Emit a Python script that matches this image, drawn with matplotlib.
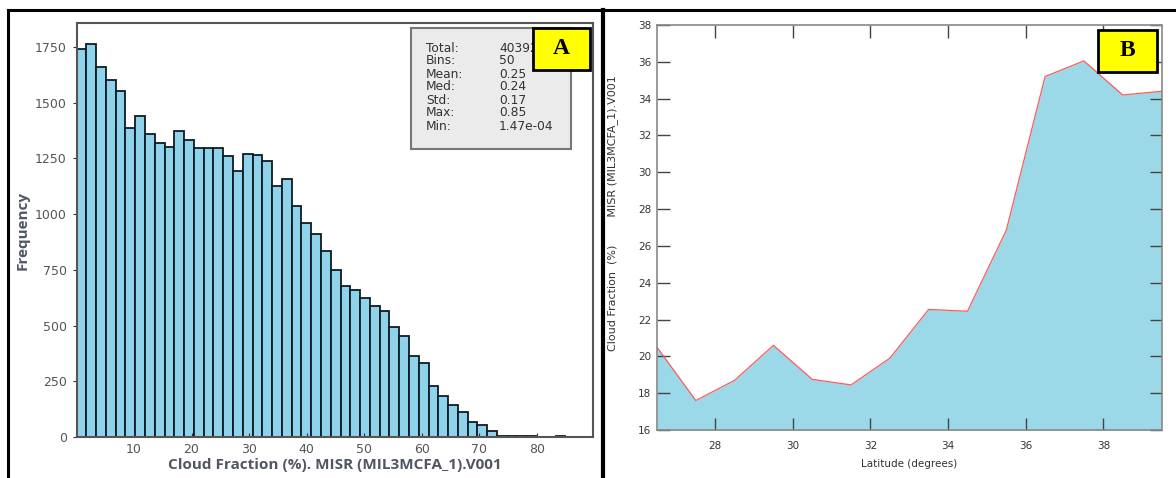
import numpy as np
import matplotlib
matplotlib.use("Agg")
import matplotlib.pyplot as plt
from matplotlib.lines import Line2D

# panel A: histogram of MISR cloud fraction (50 bins, 0..85 %)
bin_edges = np.linspace(0, 85, 51)
counts = [1740, 1764, 1662, 1604, 1554, 1388, 1442, 1361, 1321, 1303,
          1372, 1333, 1296, 1296, 1296, 1263, 1195, 1272, 1267, 1240,
          1127, 1157, 1035, 962, 911, 836, 750, 679, 660, 625,
          588, 565, 495, 455, 364, 334, 230, 184, 144, 112,
          67, 52, 28, 6, 5, 5, 4, 0, 0, 5]
stat_names = ["Total:", "Bins:", "Mean:", "Med:", "Std:", "Max:", "Min:"]
stat_values = ["40392", "50", "0.25", "0.24", "0.17", "0.85", "1.47e-04"]

# panel B: cloud fraction vs latitude
latitude = [26.5, 27.5, 28.5, 29.5, 30.5, 31.5, 32.5, 33.5, 34.5, 35.5,
            36.5, 37.5, 38.5, 39.5]
cloud_fraction = [20.5, 17.6, 18.7, 20.6, 18.75, 18.45, 19.9, 22.55, 22.45,
                  26.85, 35.2, 36.05, 34.2, 34.4]

W, H = 1176, 478
fig = plt.figure(figsize=(W / 100, H / 100), dpi=100)


def rect(l, t, r, b):
    return [l / W, 1 - b / H, (r - l) / W, (b - t) / H]


# ---- panel A ----
ax1 = fig.add_axes(rect(76.5, 23, 593, 437))
ax1.hist(bin_edges[:-1], bins=bin_edges, weights=counts,
         color="#8fd3ea", edgecolor="#0d1b24", linewidth=1.3)
ax1.set_xlim(0, 89.8)
ax1.set_ylim(0, 1858)
ax1.set_xticks(range(10, 90, 10))
ax1.set_yticks(range(0, 1751, 250))
ax1.tick_params(axis="x", direction="in", length=3, color="#333333",
                labelsize=9, labelcolor="#555555", pad=4)
ax1.tick_params(axis="y", direction="out", length=3, color="#333333",
                labelsize=9, labelcolor="#555555", pad=4)
for s in ax1.spines.values():
    s.set_color("#555555")
    s.set_linewidth(1.5)
ax1.set_xlabel("Cloud Fraction (%). MISR (MIL3MCFA_1).V001", fontsize=11,
               fontweight="bold", color="#505664", family="Open Sans", labelpad=2)
ax1.set_ylabel("Frequency", fontsize=11, fontweight="bold", color="#505664",
               family="Open Sans", labelpad=4)

# stats box
box = plt.Rectangle((411 / W, 1 - 149 / H), 160 / W, 121 / H,
                    transform=fig.transFigure, facecolor="#ebebeb",
                    edgecolor="#777777", linewidth=1.5)
fig.patches.append(box)
for i, (n, v) in enumerate(zip(stat_names, stat_values)):
    y = 1 - (48 + 13 * i) / H
    fig.text(426 / W, y, n, fontsize=8.8, color="#333333", va="center")
    fig.text(499 / W, y, v, fontsize=8.8, color="#333333", va="center")

# ---- panel B ----
ax2 = fig.add_axes(rect(657, 25, 1161.5, 430))
ax2.fill_between(latitude, cloud_fraction, 16, color="#9bd8e8", linewidth=0)
ax2.plot(latitude, cloud_fraction, color="#ff5a5a", linewidth=0.9)
ax2.set_xlim(26.5, 39.5)
ax2.set_ylim(16, 38)
ax2.set_xticks(range(28, 39, 2))
ax2.set_yticks(range(16, 39, 2))
ax2.tick_params(direction="in", length=9, width=1, color="#444444",
                top=True, right=True, labelsize=7.5, labelcolor="#333333", pad=8)
ax2.tick_params(axis="y", pad=4)
for s in ax2.spines.values():
    s.set_color("#888888")
    s.set_linewidth(1.2)
ax2.set_xlabel("Latitude (degrees)", fontsize=7.5, color="#333333", labelpad=6)
ax2.set_ylabel("Cloud Fraction  (%)        MISR (MIL3MCFA_1).V001", fontsize=8,
               color="#333333")
ax2.yaxis.set_label_coords(-0.077, 0.535)

# panel letters
for label, (l, t, r, b) in [("A", (533, 28, 590, 70)), ("B", (1098, 30, 1157, 72))]:
    fig.patches.append(plt.Rectangle((l / W, 1 - b / H), (r - l) / W, (b - t) / H,
                                     transform=fig.transFigure, facecolor="#ffff00",
                                     edgecolor="black", linewidth=2, zorder=5))
    fig.text((l + r) / 2 / W, 1 - (t + b) / 2 / H, label, fontsize=17,
             fontweight="bold", family="Liberation Serif", ha="center",
             va="center", zorder=6)

# outer frame lines
for xs, ys, lw in [((8, 1176), (10, 10), 2.2), ((8, 8), (10, 478), 2.2),
                   ((602.7, 602.7), (10, 478), 3)]:
    fig.lines.append(Line2D([x / W for x in xs], [1 - y / H for y in ys],
                            transform=fig.transFigure, color="black", linewidth=lw))

fig.savefig("out.png", dpi=100)
